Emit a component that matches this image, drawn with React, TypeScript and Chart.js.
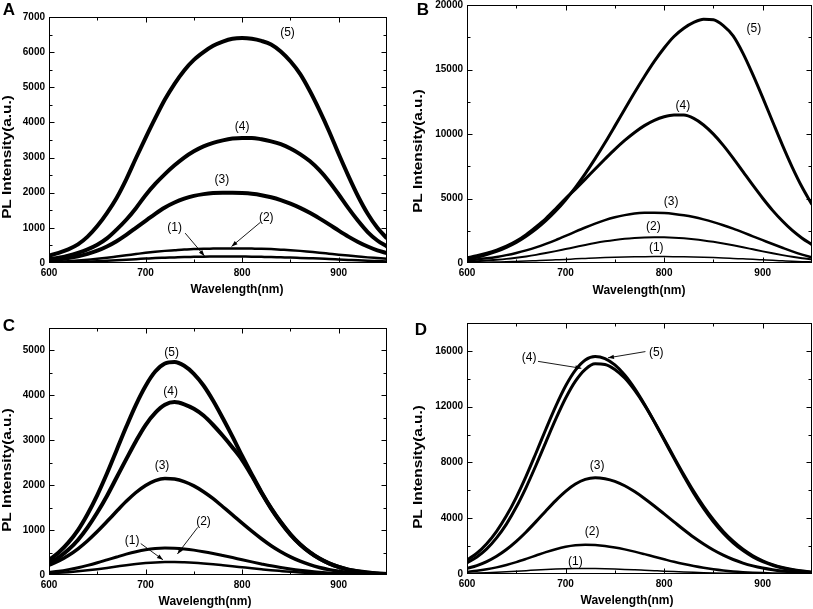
import React, { useEffect, useRef } from "react";
import { Chart, registerables } from "chart.js";

Chart.register(...registerables);

// ---------- data ----------
const WAVELENGTH = [600, 610, 620, 630, 640, 650, 660, 670, 680, 690, 700, 710, 720, 730, 740, 750, 760, 770, 780, 790, 800, 810, 820, 830, 840, 850, 860, 870, 880, 890, 900, 910, 920, 930, 940, 950];

const A1 = [10, 15, 20, 30, 40, 50, 65, 80, 95, 110, 125, 140, 150, 160, 170, 175, 180, 182, 184, 184, 182, 180, 175, 170, 162, 155, 145, 135, 125, 112, 100, 88, 76, 65, 55, 45];
const A2 = [20, 35, 50, 70, 95, 120, 150, 185, 220, 255, 290, 320, 345, 365, 385, 395, 405, 410, 415, 415, 415, 410, 405, 395, 380, 365, 345, 320, 295, 265, 235, 210, 185, 160, 140, 120];
const A3 = [70, 100, 140, 190, 260, 350, 470, 620, 800, 1000, 1200, 1400, 1580, 1720, 1830, 1910, 1960, 1990, 2000, 2000, 1990, 1970, 1930, 1870, 1790, 1690, 1570, 1430, 1270, 1100, 920, 750, 600, 470, 360, 280];
const A4 = [110, 150, 210, 290, 390, 520, 700, 950, 1230, 1560, 1930, 2250, 2530, 2780, 3000, 3180, 3320, 3420, 3490, 3540, 3560, 3560, 3520, 3460, 3380, 3260, 3100, 2900, 2640, 2320, 1950, 1560, 1200, 880, 640, 470];
const A5 = [210, 290, 390, 530, 750, 1050, 1420, 1850, 2380, 2980, 3560, 4120, 4650, 5100, 5480, 5780, 6000, 6180, 6300, 6380, 6400, 6380, 6320, 6220, 6020, 5740, 5380, 4900, 4350, 3750, 3100, 2480, 1900, 1400, 1000, 700];

const B1 = [30, 45, 60, 80, 100, 125, 150, 180, 210, 245, 280, 320, 355, 390, 420, 445, 465, 480, 490, 495, 495, 490, 480, 465, 445, 420, 390, 355, 320, 285, 245, 205, 170, 135, 105, 80];
const B2 = [100, 140, 190, 250, 320, 410, 510, 630, 770, 920, 1080, 1240, 1400, 1550, 1680, 1790, 1880, 1940, 1980, 2000, 1990, 1960, 1910, 1840, 1750, 1640, 1510, 1370, 1220, 1060, 900, 750, 610, 480, 370, 280];
const B3 = [200, 270, 360, 470, 610, 780, 980, 1210, 1480, 1780, 2100, 2430, 2750, 3050, 3320, 3540, 3710, 3830, 3890, 3900, 3870, 3800, 3700, 3560, 3380, 3170, 2930, 2660, 2370, 2070, 1770, 1470, 1180, 900, 650, 430];
const B4 = [400, 560, 760, 1000, 1300, 1700, 2200, 2800, 3450, 4200, 4990, 5730, 6500, 7290, 8060, 8810, 9500, 10120, 10650, 11060, 11340, 11480, 11470, 11210, 10700, 9990, 9120, 8130, 7080, 6030, 5020, 4080, 3250, 2520, 1920, 1420];
const B5 = [300, 450, 650, 900, 1220, 1600, 2080, 2630, 3280, 4030, 4890, 5860, 6930, 8090, 9320, 10610, 11920, 13220, 14460, 15630, 16670, 17560, 18200, 18650, 18900, 18850, 18400, 17600, 16250, 14600, 12820, 10970, 9140, 7420, 5870, 4530];

const C1 = [35, 48, 63, 82, 104, 130, 158, 188, 218, 245, 266, 281, 288, 288, 282, 272, 257, 239, 218, 196, 173, 150, 128, 107, 89, 72, 58, 46, 36, 28, 21, 16, 12, 9, 7, 5];
const C2 = [60, 85, 120, 163, 214, 272, 336, 401, 464, 519, 563, 590, 600, 595, 579, 554, 520, 480, 435, 388, 339, 292, 247, 204, 167, 134, 105, 81, 62, 46, 34, 25, 18, 13, 9, 6];
const C3 = [220, 312, 434, 584, 764, 968, 1190, 1418, 1640, 1837, 1995, 2103, 2150, 2136, 2080, 1985, 1855, 1700, 1520, 1340, 1155, 976, 807, 652, 518, 404, 308, 230, 168, 120, 85, 58, 40, 27, 18, 12];
const C4 = [260, 390, 560, 780, 1060, 1390, 1760, 2170, 2580, 2980, 3340, 3610, 3790, 3850, 3800, 3700, 3550, 3340, 3100, 2840, 2560, 2210, 1830, 1480, 1170, 900, 680, 505, 365, 258, 178, 120, 80, 52, 34, 20];
const C5 = [330, 500, 720, 1000, 1360, 1780, 2260, 2780, 3300, 3790, 4210, 4530, 4710, 4745, 4660, 4480, 4220, 3880, 3490, 3080, 2650, 2240, 1845, 1490, 1180, 908, 685, 508, 367, 260, 180, 120, 82, 55, 35, 22];

const D1 = [50, 70, 95, 125, 160, 198, 240, 285, 325, 360, 385, 398, 400, 393, 378, 356, 330, 300, 268, 236, 204, 174, 146, 120, 98, 78, 62, 48, 37, 28, 21, 15, 11, 8, 6, 4];
const D2 = [150, 228, 335, 476, 650, 855, 1085, 1327, 1566, 1780, 1952, 2062, 2100, 2077, 2011, 1905, 1767, 1603, 1423, 1236, 1053, 874, 712, 567, 443, 338, 252, 184, 132, 92, 63, 43, 29, 19, 12, 8];
const D3 = [400, 606, 893, 1275, 1757, 2340, 3015, 3755, 4525, 5265, 5925, 6450, 6785, 6900, 6830, 6640, 6330, 5910, 5420, 4880, 4310, 3740, 3170, 2630, 2150, 1720, 1350, 1040, 785, 583, 425, 303, 212, 146, 98, 65];
const D4 = [800, 1220, 1800, 2590, 3580, 4800, 6220, 7800, 9460, 11100, 12600, 13830, 14680, 15080, 15030, 14670, 14050, 13180, 12130, 10940, 9670, 8380, 7120, 5930, 4850, 3890, 3050, 2350, 1770, 1310, 950, 675, 470, 320, 215, 140];
const D5 = [1000, 1490, 2170, 3060, 4170, 5500, 7020, 8680, 10380, 12020, 13480, 14620, 15350, 15600, 15450, 14990, 14270, 13310, 12170, 10910, 9610, 8290, 7010, 5790, 4700, 3740, 2920, 2230, 1680, 1230, 890, 630, 435, 295, 197, 128];

const SERIES_NAMES = ["(1)", "(2)", "(3)", "(4)", "(5)"];
const X_TITLE = "Wavelength(nm)";
const Y_TITLE = "PL Intensity(a.u.)";
const X_TICKS = [600, 700, 800, 900];
const A_Y_TICKS = [0, 1000, 2000, 3000, 4000, 5000, 6000, 7000];
const B_Y_TICKS = [0, 5000, 10000, 15000, 20000];
const C_Y_TICKS = [0, 1000, 2000, 3000, 4000, 5000];
const D_Y_TICKS = [0, 4000, 8000, 12000, 16000];
const X_MIN = 600;
const X_MAX = 950;
const X_MAJOR = 100;
const X_MINOR = 50;

// ---------- layout / styling ----------
const FONT = '"Liberation Sans", Arial, Helvetica, sans-serif';

type Ann = { t: string; x: number; y: number };
type Arrow = { x1: number; y1: number; x2: number; y2: number };
type PanelCfg = {
  letter: string;
  left: number; top: number; w: number; h: number;
  padTop: number; padRight: number; yAxisW: number; xAxisH: number;
  yMax: number; yMajor: number; yMinor: number; yTicks: number[];
  series: number[][];
  widths: number[];
  labels: Ann[];
  arrows: Arrow[];
  letterPos: [number, number];
  yTitlePos: [number, number];
  xTitlePos: [number, number];
};

const PANELS: PanelCfg[] = [
  {
    letter: "A", left: 0, top: 0, w: 406, h: 304,
    padTop: 17, padRight: 19, yAxisW: 49, xAxisH: 41,
    yMax: 7000, yMajor: 1000, yMinor: 500, yTicks: A_Y_TICKS,
    series: [A1, A2, A3, A4, A5], widths: [2.5, 2.5, 4, 4, 4],
    labels: [
      { t: "(5)", x: 847, y: 6550 }, { t: "(4)", x: 800, y: 3890 }, { t: "(3)", x: 779, y: 2370 },
      { t: "(1)", x: 730, y: 1000 }, { t: "(2)", x: 825, y: 1280 },
    ],
    arrows: [{ x1: 741, y1: 850, x2: 761, y2: 200 }, { x1: 819, y1: 1160, x2: 789, y2: 470 }],
    letterPos: [9, 10], yTitlePos: [8, 157], xTitlePos: [237, 290],
  },
  {
    letter: "B", left: 406, top: 0, w: 407, h: 304,
    padTop: 5, padRight: 1, yAxisW: 61, xAxisH: 41,
    yMax: 20000, yMajor: 5000, yMinor: 2500, yTicks: B_Y_TICKS,
    series: [B1, B2, B3, B4, B5], widths: [1.5, 2, 2.5, 3, 3],
    labels: [
      { t: "(5)", x: 891, y: 18170 }, { t: "(4)", x: 819, y: 12160 }, { t: "(3)", x: 807, y: 4770 },
      { t: "(2)", x: 789, y: 2780 }, { t: "(1)", x: 792, y: 1160 },
    ],
    arrows: [],
    letterPos: [17, 10], yTitlePos: [13, 151], xTitlePos: [233, 291],
  },
  {
    letter: "C", left: 0, top: 304, w: 406, h: 305,
    padTop: 24, padRight: 19, yAxisW: 49, xAxisH: 34,
    yMax: 5500, yMajor: 1000, yMinor: 500, yTicks: C_Y_TICKS,
    series: [C1, C2, C3, C4, C5], widths: [2.5, 3, 3.5, 4, 4],
    labels: [
      { t: "(5)", x: 727, y: 4960 }, { t: "(4)", x: 726, y: 4090 }, { t: "(3)", x: 717, y: 2430 },
      { t: "(2)", x: 760, y: 1190 }, { t: "(1)", x: 686, y: 770 },
    ],
    arrows: [{ x1: 754, y1: 1060, x2: 733, y2: 470 }, { x1: 695, y1: 700, x2: 718, y2: 340 }],
    letterPos: [9, 22], yTitlePos: [8, 166], xTitlePos: [205, 298],
  },
  {
    letter: "D", left: 406, top: 304, w: 407, h: 305,
    padTop: 19, padRight: 1, yAxisW: 61, xAxisH: 35,
    yMax: 18000, yMajor: 4000, yMinor: 2000, yTicks: D_Y_TICKS,
    series: [D1, D2, D3, D4, D5], widths: [1.5, 2.5, 3, 3, 3],
    labels: [
      { t: "(4)", x: 663, y: 15520 }, { t: "(5)", x: 792, y: 15880 }, { t: "(3)", x: 732, y: 7790 },
      { t: "(2)", x: 727, y: 3020 }, { t: "(1)", x: 710, y: 880 },
    ],
    arrows: [{ x1: 672, y1: 15250, x2: 716, y2: 14750 }, { x1: 781, y1: 15950, x2: 743, y2: 15500 }],
    letterPos: [15, 26], yTitlePos: [13, 163], xTitlePos: [221, 297],
  },
];

function makeFrame(p: PanelCfg) {
  return {
    id: "frame",
    afterDraw(chart: any) {
      const { ctx, chartArea } = chart;
      const xs = chart.scales.x;
      const ys = chart.scales.y;
      const left = Math.round(chartArea.left) + 0.5;
      const right = Math.round(chartArea.right) - 0.5;
      const top = Math.round(chartArea.top) + 0.5;
      const bottom = Math.round(chartArea.bottom) - 0.5;
      ctx.save();
      ctx.strokeStyle = "#000";
      ctx.lineWidth = 1;
      ctx.strokeRect(left, top, right - left, bottom - top);
      ctx.beginPath();
      for (let v = X_MIN + X_MINOR; v < X_MAX; v += X_MINOR) {
        const px = Math.round(xs.getPixelForValue(v)) + 0.5;
        const len = v % X_MAJOR === 0 ? 5 : 3;
        ctx.moveTo(px, bottom); ctx.lineTo(px, bottom - len);
        ctx.moveTo(px, top); ctx.lineTo(px, top + len);
      }
      for (let v = p.yMinor; v < p.yMax; v += p.yMinor) {
        const py = Math.round(ys.getPixelForValue(v)) + 0.5;
        const len = v % p.yMajor === 0 ? 5 : 3;
        ctx.moveTo(left, py); ctx.lineTo(left + len, py);
        ctx.moveTo(right, py); ctx.lineTo(right - len, py);
      }
      ctx.stroke();

      // curve labels
      ctx.fillStyle = "#000";
      ctx.font = `12px ${FONT}`;
      ctx.textAlign = "center";
      ctx.textBaseline = "middle";
      for (const a of p.labels) {
        ctx.fillText(a.t, xs.getPixelForValue(a.x), ys.getPixelForValue(a.y));
      }
      // arrows
      for (const a of p.arrows) {
        const x1 = xs.getPixelForValue(a.x1), y1 = ys.getPixelForValue(a.y1);
        const x2 = xs.getPixelForValue(a.x2), y2 = ys.getPixelForValue(a.y2);
        ctx.beginPath();
        ctx.lineWidth = 0.9;
        ctx.moveTo(x1, y1); ctx.lineTo(x2, y2);
        ctx.stroke();
        const ang = Math.atan2(y2 - y1, x2 - x1);
        const hl = 6, hw = 2.2;
        ctx.beginPath();
        ctx.moveTo(x2, y2);
        ctx.lineTo(x2 - hl * Math.cos(ang) + hw * Math.sin(ang), y2 - hl * Math.sin(ang) - hw * Math.cos(ang));
        ctx.lineTo(x2 - hl * Math.cos(ang) - hw * Math.sin(ang), y2 - hl * Math.sin(ang) + hw * Math.cos(ang));
        ctx.closePath();
        ctx.fill();
      }

      // panel letter
      ctx.font = `bold 17px ${FONT}`;
      ctx.fillText(p.letter, p.letterPos[0], p.letterPos[1]);

      // axis titles
      ctx.font = `bold 12px ${FONT}`;
      ctx.fillText(X_TITLE, p.xTitlePos[0], p.xTitlePos[1]);
      ctx.save();
      ctx.translate(p.yTitlePos[0], p.yTitlePos[1]);
      ctx.rotate(-Math.PI / 2);
      ctx.scale(1.28, 1);
      ctx.fillText(Y_TITLE, 0, 0);
      ctx.restore();

      ctx.restore();
    },
  };
}

function Panel({ p }: { p: PanelCfg }) {
  const ref = useRef<HTMLCanvasElement>(null);
  useEffect(() => {
    const tickFont = { family: FONT, size: 10, weight: "bold" as const };
    const chart = new Chart(ref.current!, {
      type: "line",
      data: {
        datasets: p.series.map((s, i) => ({
          label: SERIES_NAMES[i],
          data: WAVELENGTH.map((x, j) => ({ x, y: s[j] })),
          borderColor: "#000",
          backgroundColor: "#000",
          borderWidth: p.widths[i],
          pointRadius: 0,
          tension: 0.4,
          cubicInterpolationMode: "monotone" as const,
          fill: false,
        })),
      },
      options: {
        responsive: false,
        animation: false,
        devicePixelRatio: 1,
        layout: { padding: { left: 0, top: p.padTop, right: p.padRight, bottom: 0 } },
        plugins: { legend: { display: false }, tooltip: { enabled: false } },
        scales: {
          x: {
            type: "linear",
            min: X_MIN,
            max: X_MAX,
            grid: { display: false, drawTicks: false },
            border: { display: false },
            ticks: {
              autoSkip: false,
              maxRotation: 0,
              padding: 4,
              color: "#000",
              font: tickFont,
              callback: (v: any) => String(v),
            },
            afterBuildTicks: (s: any) => { s.ticks = X_TICKS.map((v) => ({ value: v })); },
            afterFit: (s: any) => { s.height = p.xAxisH; s.paddingLeft = 0; s.paddingRight = 0; },
          },
          y: {
            type: "linear",
            min: 0,
            max: p.yMax,
            grid: { display: false, drawTicks: false },
            border: { display: false },
            ticks: {
              autoSkip: false,
              padding: 4,
              color: "#000",
              font: tickFont,
              callback: (v: any) => String(v),
            },
            afterBuildTicks: (s: any) => { s.ticks = p.yTicks.map((v) => ({ value: v })); },
            afterFit: (s: any) => { s.width = p.yAxisW; s.paddingTop = 0; s.paddingBottom = 0; },
          },
        },
      },
      plugins: [makeFrame(p)],
    });
    return () => chart.destroy();
  }, [p]);
  return (
    <canvas
      ref={ref}
      width={p.w}
      height={p.h}
      style={{ position: "absolute", left: p.left, top: p.top, width: p.w, height: p.h }}
    />
  );
}

export default function App() {
  return (
    <div style={{ position: "fixed", left: 0, top: 0, width: 813, height: 609, background: "#fff", overflow: "hidden" }}>
      {PANELS.map((p) => (
        <Panel key={p.letter} p={p} />
      ))}
    </div>
  );
}
